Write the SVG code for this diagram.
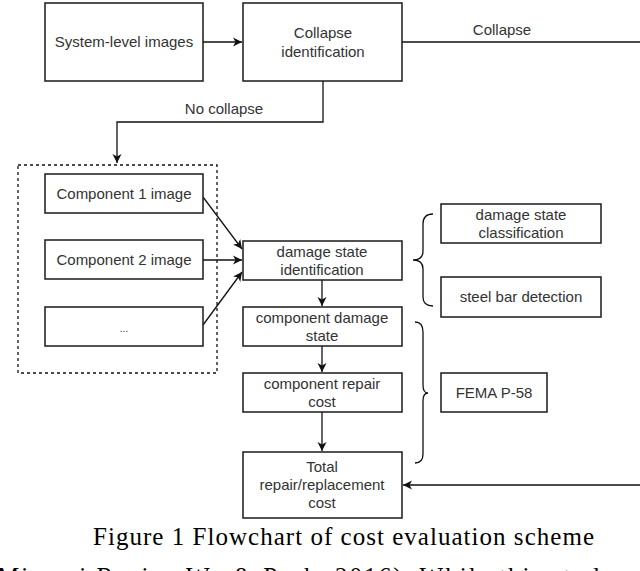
<svg xmlns="http://www.w3.org/2000/svg" width="640" height="571" viewBox="0 0 640 571">
<style>
.box{fill:#fff;stroke:#1a1a1a;stroke-width:1.5}
.t{font-family:"Liberation Sans",Arial,sans-serif;font-size:15px;fill:#333;text-anchor:middle}
.c{fill:none;stroke:#111;stroke-width:1.3}
.cap{font-family:"Liberation Serif","Times New Roman",serif;font-size:25px;fill:#000}
</style>
<defs>
<marker id="ah" markerWidth="10" markerHeight="10" refX="9" refY="5" orient="auto" markerUnits="userSpaceOnUse">
<path d="M0,0.5 L9,5 L0,9.5 L2.5,5 z" fill="#111"/>
</marker>
</defs>
<rect width="640" height="571" fill="#fff"/>
<g id="connectors">
<line class="c" x1="203" y1="42" x2="242" y2="42" marker-end="url(#ah)"/>
<line class="c" x1="402" y1="42" x2="640" y2="42"/>
<polyline class="c" points="323,81 323,122 117,122 117,163" marker-end="url(#ah)"/>
<line class="c" x1="203" y1="197" x2="242" y2="249" marker-end="url(#ah)"/>
<line class="c" x1="203" y1="260" x2="242" y2="260" marker-end="url(#ah)"/>
<line class="c" x1="203" y1="325" x2="242" y2="272" marker-end="url(#ah)"/>
<line class="c" x1="322" y1="280" x2="322" y2="306" marker-end="url(#ah)"/>
<line class="c" x1="322" y1="346" x2="322" y2="372" marker-end="url(#ah)"/>
<line class="c" x1="322" y1="412" x2="322" y2="451" marker-end="url(#ah)"/>
<line class="c" x1="640" y1="485" x2="403" y2="485" marker-end="url(#ah)"/>
<path class="c" d="M433,214 Q423,214 423,224 L423,251 Q423,260 413,260 Q423,260 423,269 L423,297 Q423,306 433,306"/>
<path class="c" d="M415,322 Q423,322 423,332 L423,385 Q423,393 428,393 Q423,393 423,401 L423,454 Q423,463 415,463"/>
</g>
<text class="t" x="502" y="35">Collapse</text>
<text class="t" x="224" y="114">No collapse</text>
<g id="dashed-group"><rect x="18" y="165" width="199" height="208" fill="none" stroke="#111" stroke-width="1.3" stroke-dasharray="3,3"/></g>
<g id="system"><rect class="box" x="45" y="3" width="158" height="78"/><text class="t" x="124" y="47">System-level images</text></g>
<g id="collapse-id"><rect class="box" x="243" y="3" width="159" height="78"/><text class="t" x="323" y="38">Collapse</text><text class="t" x="323" y="57">identification</text></g>
<g id="comp1"><rect class="box" x="45" y="174" width="158" height="39"/><text class="t" x="124" y="199">Component 1 image</text></g>
<g id="comp2"><rect class="box" x="45" y="240" width="158" height="39"/><text class="t" x="124" y="265">Component 2 image</text></g>
<g id="comp3"><rect class="box" x="45" y="307" width="158" height="39"/><text class="t" x="124" y="332" style="font-size:10px">...</text></g>
<g id="dsi"><rect class="box" x="243" y="241" width="159" height="39"/><text class="t" x="322" y="257">damage state</text><text class="t" x="322" y="275">identification</text></g>
<g id="cds"><rect class="box" x="243" y="307" width="159" height="39"/><text class="t" x="322" y="323">component damage</text><text class="t" x="322" y="341">state</text></g>
<g id="crc"><rect class="box" x="243" y="373" width="159" height="39"/><text class="t" x="322" y="389">component repair</text><text class="t" x="322" y="407">cost</text></g>
<g id="total"><rect class="box" x="243" y="452" width="159" height="66"/><text class="t" x="322" y="472">Total</text><text class="t" x="322" y="490">repair/replacement</text><text class="t" x="322" y="508">cost</text></g>
<g id="dsc"><rect class="box" x="441" y="204" width="160" height="39"/><text class="t" x="521" y="220">damage state</text><text class="t" x="521" y="238">classification</text></g>
<g id="sbd"><rect class="box" x="441" y="277" width="160" height="40"/><text class="t" x="521" y="302">steel bar detection</text></g>
<g id="fema"><rect class="box" x="441" y="373" width="106" height="39"/><text class="t" x="494" y="398">FEMA P-58</text></g>
<text class="cap" x="93" y="545" textLength="501" lengthAdjust="spacing">Figure 1 Flowchart of cost evaluation scheme</text>
<text class="cap" x="-3" y="585" textLength="650" lengthAdjust="spacing">Minami Rosina Wu &amp; Pash, 2016). While this study of</text>
</svg>
